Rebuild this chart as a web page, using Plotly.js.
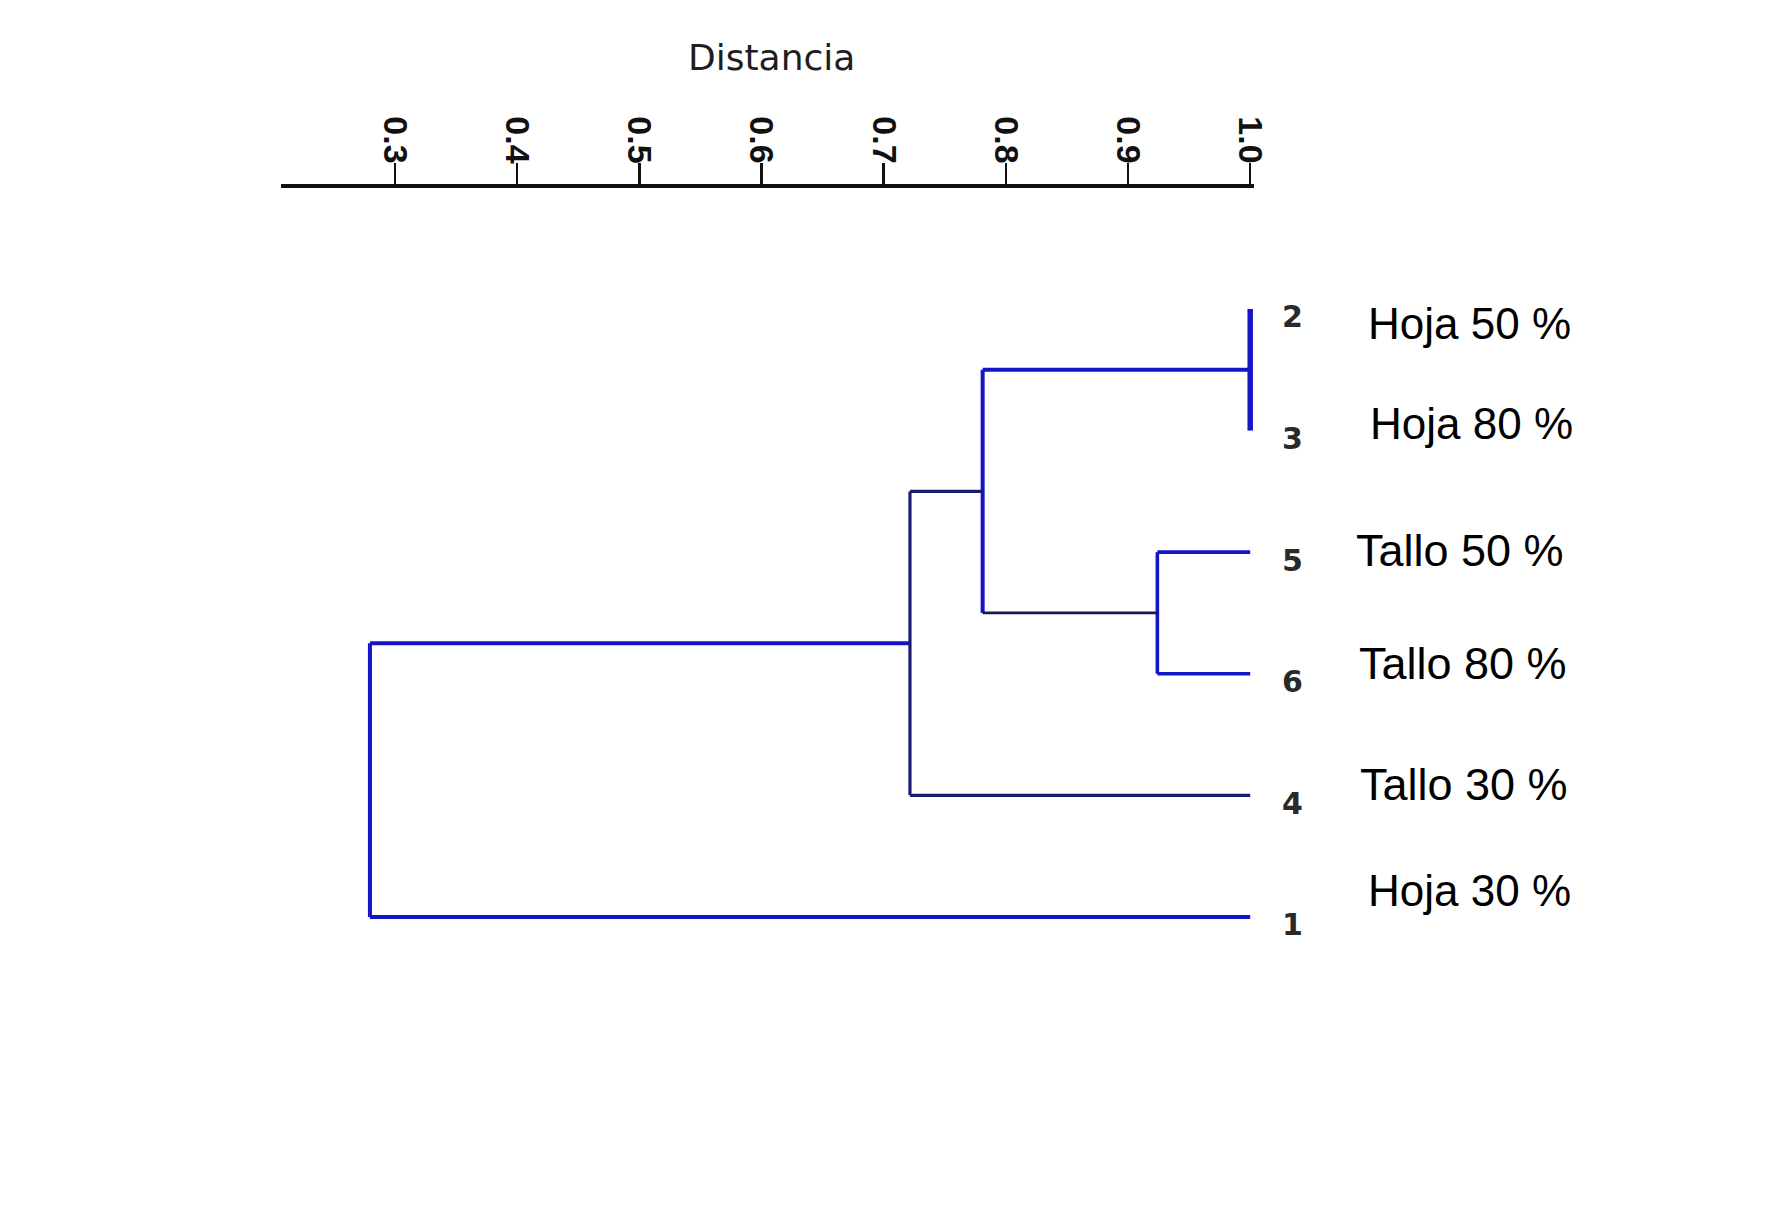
<!DOCTYPE html>
<html>
<head>
<meta charset="utf-8">
<script src="https://cdn.plot.ly/plotly-3.0.1.min.js"></script>
<style>
  html, body { margin: 0; padding: 0; background: #ffffff; }
  #chart { width: 1779px; height: 1228px; }
</style>
</head>
<body>
<div id="chart"></div>
<script>
// ---- Data ----
// Leaves in display order, top to bottom
const leafIds   = ['2', '3', '5', '6', '4', '1'];
const leafNames = ['Hoja 50 %', 'Hoja 80 %', 'Tallo 50 %', 'Tallo 80 %', 'Tallo 30 %', 'Hoja 30 %'];
const leafHeight = 1.0;
// Merge steps: left child, right child, distance (similarity) at which they join
const mergeLeft   = ['2', '5', 'C1', 'C3', 'C4'];
const mergeRight  = ['3', '6', 'C2', '4', '1'];
const mergeHeight = [1.0, 0.924, 0.781, 0.7215, 0.2795];
// Axis ticks
const tickValues = [0.3, 0.4, 0.5, 0.6, 0.7, 0.8, 0.9, 1.0];
const tickLabels = ['0.3', '0.4', '0.5', '0.6', '0.7', '0.8', '0.9', '1.0'];
const axisTitle = 'Distancia';

// ---- Styling (not data) ----
const BLUE = '#1515c8';
const NAVY = '#1c1c72';
const DARK = '#1a1a4e';
// style per merge: [left horizontal, vertical, right horizontal]
const mergeStyle = [
  [{c: BLUE, w: 5.5}, {c: BLUE, w: 5.5}, {c: BLUE, w: 5.5}],
  [{c: BLUE, w: 3.6}, {c: BLUE, w: 3.6}, {c: BLUE, w: 3.6}],
  [{c: BLUE, w: 4.0}, {c: BLUE, w: 4.0}, {c: DARK, w: 2.8}],
  [{c: NAVY, w: 3.2}, {c: NAVY, w: 3.2}, {c: NAVY, w: 3.2}],
  [{c: BLUE, w: 4.0}, {c: BLUE, w: 4.0}, {c: BLUE, w: 4.0}]
];
const numberShift = {x: 30, y: -8};
const nameShiftX = [116, 118, 104, 107, 108, 116];
const nameShiftY = [-15, 7, 2, 10, 11, 26];
const nameSize = [44, 44, 45, 45, 45, 44];

// ---- Build dendrogram geometry from the merges ----
const nodes = {};
leafIds.forEach((id, i) => { nodes[id] = {y: i, h: leafHeight}; });
const groups = {};
function addSeg(style, x0, y0, x1, y1) {
  const key = style.c + '|' + style.w;
  if (!groups[key]) groups[key] = {style: style, x: [], y: []};
  groups[key].x.push(x0, x1, null);
  groups[key].y.push(y0, y1, null);
}
mergeLeft.forEach((l, k) => {
  const a = nodes[l], b = nodes[mergeRight[k]], h = mergeHeight[k];
  const st = mergeStyle[k];
  addSeg(st[0], a.h, a.y, h, a.y);
  addSeg(st[1], h, a.y, h, b.y);
  addSeg(st[2], b.h, b.y, h, b.y);
  nodes['C' + (k + 1)] = {y: (a.y + b.y) / 2, h: h};
});

const traces = Object.values(groups).map(g => ({
  type: 'scatter', mode: 'lines', x: g.x, y: g.y,
  line: {color: g.style.c, width: g.style.w},
  hoverinfo: 'skip', showlegend: false
}));

const annotations = [];
leafIds.forEach((id, i) => {
  annotations.push({
    xref: 'x', yref: 'y', x: leafHeight, y: i, text: id,
    xanchor: 'left', yanchor: 'middle', showarrow: false,
    xshift: numberShift.x, yshift: numberShift.y,
    font: {family: 'DejaVu Sans', size: 30, color: '#2a2a2a', weight: 'bold'}
  });
  annotations.push({
    xref: 'x', yref: 'y', x: leafHeight, y: i, text: leafNames[i],
    xanchor: 'left', yanchor: 'middle', showarrow: false,
    xshift: nameShiftX[i], yshift: nameShiftY[i],
    font: {family: 'Liberation Sans, Arial, sans-serif', size: nameSize[i], color: '#000000'}
  });
});
annotations.push({
  xref: 'paper', yref: 'paper', x: 0.5045, y: 1.161, text: axisTitle,
  xanchor: 'center', yanchor: 'middle', showarrow: false,
  font: {family: 'DejaVu Sans', size: 36, color: '#1e1e1e'}
});

const layout = {
  width: 1779, height: 1228,
  margin: {l: 281, r: 525, t: 188, b: 228, pad: 0},
  paper_bgcolor: '#ffffff', plot_bgcolor: '#ffffff',
  showlegend: false,
  xaxis: {
    range: [0.2067, 1.0031], side: 'top',
    showline: true, linecolor: '#111111', linewidth: 4.5,
    ticks: 'outside', ticklen: 21, tickwidth: 2.5, tickcolor: '#111111',
    tickmode: 'array', tickvals: tickValues, ticktext: tickLabels,
    tickangle: 90, ticklabelstandoff: -13,
    tickfont: {family: 'Liberation Sans, Arial, sans-serif', size: 34, color: '#111111', weight: 'bold'},
    showgrid: false, zeroline: false, fixedrange: true
  },
  yaxis: {
    range: [5.683, -0.995], visible: false,
    showgrid: false, zeroline: false, fixedrange: true
  },
  annotations: annotations
};

Plotly.newPlot('chart', traces, layout, {displayModeBar: false, staticPlot: true});
</script>
</body>
</html>
